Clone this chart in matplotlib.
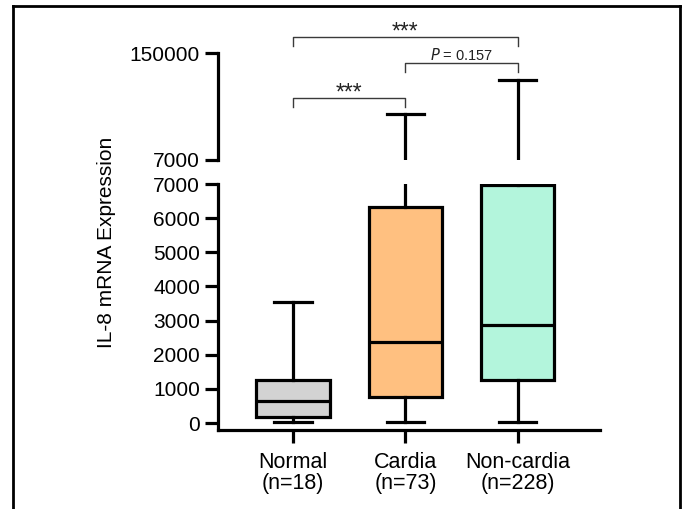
import matplotlib
matplotlib.use("Agg")
import matplotlib.pyplot as plt
from matplotlib.lines import Line2D

plt.rcParams['font.family'] = ['Liberation Sans', 'DejaVu Sans']

categories = ["Normal", "Cardia", "Non-cardia"]
n_counts = [18, 73, 228]
whislo = [20, 25, 30]
q1 = [170, 770, 1260]
med = [650, 2380, 2880]
q3 = [1260, 6330, 6960]
whishi = [3550, 68500, 114000]
colors = ["#D3D3D3", "#FFC080", "#B3F5DC"]

W, H = 682, 509
fig = plt.figure(figsize=(W / 100, H / 100), dpi=100)

def fx(px):
    return px / W

def fy(py):
    return 1 - py / H

ax_lo = fig.add_axes([fx(218), fy(430), fx(600) - fx(218), fy(184) - fy(430)])
ax_hi = fig.add_axes([fx(218), fy(160), fx(600) - fx(218), fy(53) - fy(160)])

stats = []
for i, c in enumerate(categories):
    stats.append(dict(label=c, whislo=whislo[i], q1=q1[i], med=med[i],
                      q3=q3[i], whishi=whishi[i], fliers=[]))

lw = 2.3
positions = list(range(len(categories)))
for ax in (ax_lo, ax_hi):
    bp = ax.bxp(stats, positions=positions, widths=0.65, capwidths=0.33,
                patch_artist=True, showfliers=False,
                boxprops=dict(linewidth=lw, edgecolor='black'),
                medianprops=dict(color='black', linewidth=lw),
                whiskerprops=dict(color='black', linewidth=lw),
                capprops=dict(color='black', linewidth=lw))
    for patch, col in zip(bp['boxes'], colors):
        patch.set_facecolor(col)
    if ax is ax_hi:
        # only the upper whiskers/caps belong to the upper segment
        for art in bp['boxes'] + bp['medians']:
            art.set_visible(False)
        for k in range(len(categories)):
            bp['whiskers'][2 * k].set_visible(False)
            bp['caps'][2 * k].set_visible(False)
            if whishi[k] <= 7000:
                bp['whiskers'][2 * k + 1].set_visible(False)
                bp['caps'][2 * k + 1].set_visible(False)
    ax.set_xlim(-0.667, 2.73)
    for s in ('top', 'right'):
        ax.spines[s].set_visible(False)
    for s in ('left', 'bottom'):
        ax.spines[s].set_linewidth(lw)
    ax.tick_params(axis='both', width=lw, length=9.5, labelsize=15, colors='black')
    ax.tick_params(axis='y', pad=3.5)
    ax.tick_params(axis='x', pad=6)

ax_lo.set_ylim(-205, 7000)
ax_lo.set_yticks(range(0, 7001, 1000))
ax_lo.set_yticklabels([str(v) for v in range(0, 7001, 1000)])
ax_lo.set_xticks(positions)
ax_lo.set_xticklabels([f"{c}\n(n={n})" for c, n in zip(categories, n_counts)],
                      fontsize=15.5, linespacing=1.05)

ax_hi.set_ylim(7000, 150000)
ax_hi.set_yticks([7000, 150000])
ax_hi.set_yticklabels(["7000", "150000"])
ax_hi.spines['bottom'].set_visible(False)
ax_hi.set_xticks([])
ax_hi.patch.set_alpha(0)

fig.text(fx(106), fy(242), "IL-8 mRNA Expression", rotation=90,
         ha='center', va='center', fontsize=15)

# significance brackets (x in data, y in axes fraction of upper axes)
trans = ax_hi.get_xaxis_transform()
def yf(py):
    return (160 - py) / 107

brackets = [
    (0, 2, 37, 46, "***", 38.5),
    (1, 2, 62.7, 72, r"$\it{P}$ = 0.157", 59.5),
    (0, 1, 97.7, 107, "***", 100.0),
]
for x0, x1, ytop, yleg, label, ybase in brackets:
    ax_hi.add_line(Line2D([x0, x0, x1, x1], [yf(yleg), yf(ytop), yf(ytop), yf(yleg)],
                          transform=trans, color='#3a3a3a', linewidth=1.0,
                          clip_on=False))
    fs = 16.5 if label == "***" else 10.5
    ax_hi.text((x0 + x1) / 2, yf(ybase), label, transform=trans,
               ha='center', va='baseline', fontsize=fs, color='#222222',
               clip_on=False)

# outer frame
frame_kw = dict(color='black', linewidth=2.0, transform=fig.transFigure)
fig.add_artist(Line2D([fx(13), fx(13)], [0, fy(6)], **frame_kw))
fig.add_artist(Line2D([fx(13), fx(680)], [fy(6), fy(6)], **frame_kw))
fig.add_artist(Line2D([fx(680), fx(680)], [fy(6), 0], **frame_kw))

fig.savefig("out.png", dpi=100)
